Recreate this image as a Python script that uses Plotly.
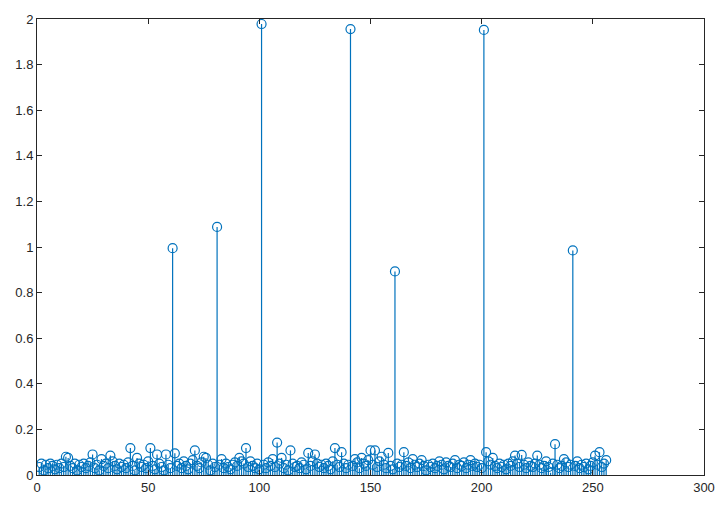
import plotly.graph_objects as go

n_index = list(range(1, 257))
magnitude = [
    0.035, 0.05, 0.02, 0.045, 0.03, 0.05, 0.04, 0.025, 0.045, 0.03, 0.05, 0.035, 0.08, 0.075, 0.04, 0.03,
    0.05, 0.02, 0.045, 0.035, 0.05, 0.03, 0.04, 0.055, 0.09, 0.03, 0.045, 0.02, 0.07, 0.04, 0.05, 0.03,
    0.085, 0.06, 0.04, 0.025, 0.05, 0.035, 0.045, 0.03, 0.055, 0.118, 0.04, 0.02, 0.075, 0.05, 0.035, 0.045,
    0.03, 0.06, 0.118, 0.04, 0.025, 0.09, 0.05, 0.035, 0.02, 0.09, 0.045, 0.03, 0.995, 0.095, 0.04, 0.05,
    0.03, 0.06, 0.04, 0.025, 0.05, 0.065, 0.108, 0.04, 0.03, 0.055, 0.08, 0.075, 0.045, 0.02, 0.05, 0.035,
    1.088, 0.045, 0.07, 0.03, 0.05, 0.035, 0.025, 0.045, 0.055, 0.04, 0.075, 0.06, 0.05, 0.118, 0.035, 0.06,
    0.04, 0.03, 0.05, 0.025, 1.978, 0.045, 0.03, 0.055, 0.04, 0.07, 0.035, 0.142, 0.05, 0.075, 0.03, 0.045,
    0.02, 0.108, 0.05, 0.035, 0.04, 0.03, 0.055, 0.045, 0.025, 0.097, 0.04, 0.06, 0.09, 0.05, 0.035, 0.045,
    0.03, 0.05, 0.04, 0.025, 0.06, 0.118, 0.045, 0.035, 0.1, 0.05, 0.03, 0.045, 1.956, 0.04, 0.07, 0.055,
    0.03, 0.075, 0.05, 0.04, 0.065, 0.108, 0.045, 0.108, 0.035, 0.06, 0.08, 0.045, 0.03, 0.097, 0.04, 0.025,
    0.893, 0.05, 0.035, 0.045, 0.1, 0.04, 0.055, 0.03, 0.07, 0.045, 0.035, 0.05, 0.065, 0.04, 0.02, 0.045,
    0.035, 0.05, 0.03, 0.04, 0.06, 0.045, 0.025, 0.055, 0.04, 0.035, 0.05, 0.065, 0.03, 0.045, 0.04, 0.055,
    0.03, 0.045, 0.065, 0.04, 0.05, 0.035, 0.045, 0.03, 1.952, 0.1, 0.06, 0.045, 0.075, 0.04, 0.03, 0.05,
    0.035, 0.045, 0.025, 0.05, 0.04, 0.06, 0.085, 0.05, 0.035, 0.088, 0.045, 0.03, 0.055, 0.04, 0.035, 0.05,
    0.085, 0.045, 0.03, 0.04, 0.06, 0.035, 0.01, 0.05, 0.135, 0.045, 0.03, 0.04, 0.07, 0.055, 0.035, 0.045,
    0.985, 0.04, 0.06, 0.03, 0.045, 0.035, 0.05, 0.025, 0.04, 0.055, 0.085, 0.045, 0.1, 0.035, 0.05, 0.065,
]

x_ticks = [0, 50, 100, 150, 200, 250, 300]
y_ticks = [0, 0.2, 0.4, 0.6, 0.8, 1, 1.2, 1.4, 1.6, 1.8, 2]
y_tick_text = ["0", "0.2", "0.4", "0.6", "0.8", "1", "1.2", "1.4", "1.6", "1.8", "2"]

color = "#0072BD"

# stems
sx, sy = [], []
for xv, yv in zip(n_index, magnitude):
    sx += [xv, xv, None]
    sy += [0, yv, None]

fig = go.Figure()
fig.add_trace(go.Scatter(x=sx, y=sy, mode="lines",
                         line=dict(color=color, width=1.2), hoverinfo="skip"))
fig.add_trace(go.Scatter(x=n_index, y=magnitude, mode="markers",
                         marker=dict(symbol="circle-open", size=9, color=color,
                                     line=dict(width=1.2, color=color))))

axis_common = dict(
    showline=True, linecolor="#262626", linewidth=1, mirror="allticks",
    ticks="inside", ticklen=5, tickcolor="#262626", showgrid=False, zeroline=False,
    tickfont=dict(family="Liberation Sans, Arial, sans-serif", size=13, color="#262626"),
)

fig.update_layout(
    width=727, height=507,
    margin=dict(l=37, r=17, t=16, b=31),
    paper_bgcolor="white", plot_bgcolor="white",
    showlegend=False,
    xaxis=dict(range=[0, 300], tickvals=x_ticks, **axis_common),
    yaxis=dict(range=[0, 2], tickvals=y_ticks, ticktext=y_tick_text, **axis_common),
)

fig.write_html("out.html")
